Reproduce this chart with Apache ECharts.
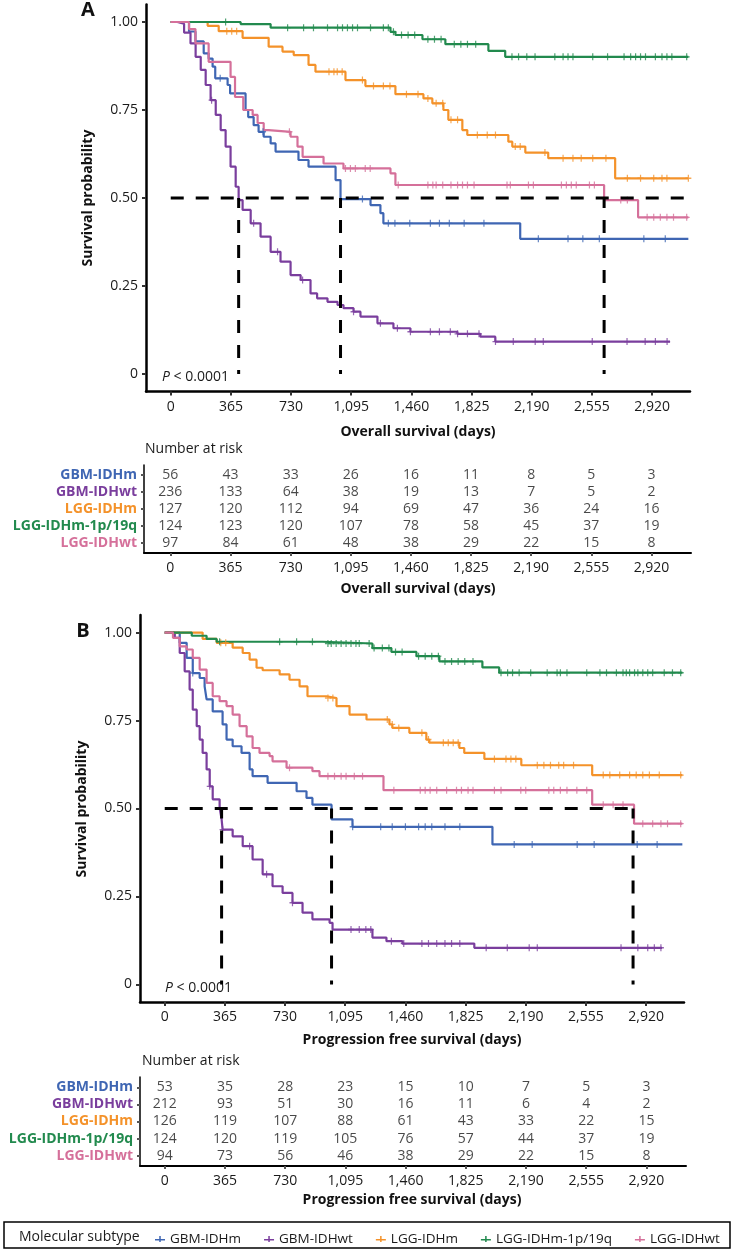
<!DOCTYPE html>
<html>
<head>
<meta charset="utf-8">
<script src="https://cdn.jsdelivr.net/npm/echarts@6/dist/echarts.min.js"></script>
<style>
html,body{margin:0;padding:0;background:#fff;}
#chart{width:738px;height:1252px;}
</style>
</head>
<body>
<div id="chart"></div>
<script>
// ---------- DATA ----------
const groups = ['GBM-IDHm', 'GBM-IDHwt', 'LGG-IDHm', 'LGG-IDHm-1p/19q', 'LGG-IDHwt'];
const tickDays = [0, 365, 730, 1095, 1460, 1825, 2190, 2555, 2920];
const tickSurv = [0, 0.25, 0.5, 0.75, 1];

// Overall survival KM steps [day, survival]
const osGBMm = [[0,1],[111,0.973],[150,0.945],[200,0.911],[230,0.896],[254,0.873],[270,0.840],[345,0.821],[360,0.797],[454,0.75],[470,0.73],[503,0.707],[533,0.688],[564,0.674],[606,0.655],[636,0.632],[775,0.608],[836,0.589],[1000,0.551],[1030,0.497],[1212,0.480],[1272,0.457],[1290,0.428],[2120,0.384],[3140,0.384]];
const osGBMwt = [[0,1],[40,0.995],[81,0.97],[120,0.939],[151,0.901],[182,0.864],[212,0.821],[242,0.778],[273,0.736],[303,0.693],[333,0.646],[363,0.589],[394,0.532],[412,0.494],[436,0.466],[485,0.428],[545,0.390],[606,0.347],[666,0.319],[727,0.281],[788,0.267],[848,0.229],[888,0.215],[951,0.205],[1012,0.196],[1048,0.187],[1109,0.177],[1151,0.163],[1254,0.144],[1351,0.130],[1454,0.120],[1739,0.114],[1878,0.106],[1969,0.092],[3029,0.092]];
const osLGGm = [[0,1],[224,0.989],[291,0.974],[436,0.955],[594,0.930],[678,0.916],[746,0.906],[836,0.878],[878,0.859],[1060,0.835],[1181,0.818],[1363,0.795],[1533,0.783],[1587,0.769],[1654,0.750],[1684,0.722],[1769,0.693],[1799,0.679],[2048,0.660],[2072,0.646],[2151,0.629],[2290,0.613],[2696,0.556],[3140,0.556]];
const osLGGcodel = [[0,1],[424,0.994],[606,0.984],[1333,0.972],[1363,0.963],[1527,0.951],[1666,0.937],[1927,0.918],[2029,0.901],[3140,0.901]];
const osLGGwt = [[0,1],[111,0.98],[150,0.939],[230,0.887],[363,0.844],[390,0.787],[440,0.75],[497,0.736],[527,0.713],[564,0.693],[594,0.688],[727,0.674],[769,0.646],[800,0.617],[927,0.598],[1048,0.584],[1333,0.570],[1363,0.537],[2629,0.494],[2835,0.445],[3140,0.445]];

// Overall survival censor times
const osCensGBMm = [300,560,1163,1320,1360,1450,1575,1630,1690,1780,1900,2230,2410,2500,2600,2870,3000];
const osCensGBMwt = [248,503,648,800,1109,1272,1375,1454,1575,1630,1696,1740,1800,1870,1970,2078,2211,2260,2557,2768,2878,2940,3011];
const osCensLGGm = [340,370,400,960,990,1010,1040,1163,1230,1290,1330,1430,1500,1560,1610,1650,1700,1740,1860,1920,1970,2090,2120,2270,2380,2440,2490,2560,2640,2770,2850,2930,2980,3010,3140];
const osCensLGGcodel = [333,709,806,866,951,1012,1042,1072,1103,1133,1212,1290,1320,1351,1400,1440,1480,1560,1600,1640,1720,1760,1800,1850,2070,2110,2160,2210,2330,2380,2410,2440,2560,2650,2750,2790,2820,2850,2880,2940,2980,3010,3040,3130];
const osCensLGGwt = [720,1060,1090,1120,1180,1210,1380,1560,1590,1610,1650,1700,1740,1770,1800,1840,2040,2060,2170,2200,2370,2400,2430,2460,2540,2570,2730,2770,2890,2930,2970,3010,3050,3130];

// Progression free survival KM steps
const pfsGBMm = [[0,1],[91,0.971],[133,0.928],[170,0.885],[212,0.871],[242,0.847],[254,0.810],[291,0.776],[351,0.739],[375,0.696],[412,0.677],[466,0.658],[515,0.611],[533,0.592],[624,0.573],[800,0.549],[860,0.530],[896,0.511],[1012,0.469],[1139,0.448],[1988,0.398],[3140,0.398]];
const pfsGBMwt = [[0,1],[61,0.985],[91,0.942],[121,0.890],[151,0.838],[170,0.781],[194,0.734],[212,0.696],[230,0.658],[254,0.611],[273,0.563],[291,0.526],[333,0.502],[345,0.470],[351,0.440],[412,0.421],[473,0.393],[533,0.355],[594,0.313],[654,0.279],[715,0.260],[775,0.232],[836,0.204],[896,0.185],[1000,0.175],[1018,0.156],[1260,0.133],[1345,0.123],[1442,0.116],[1878,0.104],[3017,0.104]];
const pfsLGGm = [[0,1],[230,0.982],[315,0.971],[412,0.957],[473,0.942],[515,0.923],[557,0.900],[594,0.893],[697,0.881],[757,0.866],[818,0.847],[866,0.819],[981,0.814],[1042,0.791],[1121,0.767],[1224,0.753],[1363,0.739],[1381,0.729],[1484,0.715],[1587,0.696],[1605,0.687],[1787,0.672],[1817,0.658],[1939,0.641],[2163,0.623],[2593,0.595],[3140,0.595]];
const pfsLGGcodel = [[0,1],[164,0.991],[254,0.982],[315,0.974],[957,0.969],[1260,0.956],[1375,0.945],[1527,0.933],[1666,0.918],[1927,0.901],[2029,0.886],[3140,0.886]];
const pfsLGGwt = [[0,1],[50,0.985],[91,0.961],[133,0.952],[170,0.928],[212,0.895],[254,0.857],[291,0.819],[333,0.805],[375,0.791],[412,0.767],[454,0.734],[497,0.705],[533,0.672],[575,0.658],[636,0.649],[654,0.634],[739,0.616],[896,0.606],[939,0.592],[1327,0.552],[2593,0.511],[2847,0.457],[3140,0.457]];

// PFS censor times
const pfsCensGBMm = [170,1140,1310,1380,1460,1540,1580,1620,1700,1790,2120,2229,2502,2605,2866,2987];
const pfsCensGBMwt = [273,351,515,618,775,1130,1180,1220,1250,1375,1450,1560,1600,1650,1700,1740,1790,1950,2078,2211,2260,2768,2870,2930,2970,3010];
const pfsCensLGGm = [340,370,990,1020,1350,1380,1420,1560,1600,1690,1720,1750,1780,2000,2070,2100,2130,2260,2300,2340,2390,2420,2480,2660,2700,2760,2820,2860,2900,2940,3000,3130];
const pfsCensLGGcodel = [333,697,800,896,990,1010,1040,1070,1100,1130,1160,1180,1240,1270,1320,1360,1400,1440,1540,1580,1620,1660,1700,1740,1780,1820,1870,2040,2080,2110,2150,2220,2320,2380,2400,2440,2560,2640,2680,2740,2780,2800,2820,2850,2870,2900,2930,2960,3030,3080,3130];
const pfsCensLGGwt = [757,990,1030,1070,1100,1150,1200,1390,1550,1580,1610,1650,1710,1770,1800,1840,1870,2000,2040,2160,2190,2330,2360,2400,2440,2500,2560,2660,2720,2780,2900,2960,3010,3050,3130];

// Number at risk
const osRiskGBMm = [56,43,33,26,16,11,8,5,3];
const osRiskGBMwt = [236,133,64,38,19,13,7,5,2];
const osRiskLGGm = [127,120,112,94,69,47,36,24,16];
const osRiskLGGcodel = [124,123,120,107,78,58,45,37,19];
const osRiskLGGwt = [97,84,61,48,38,29,22,15,8];
const pfsRiskGBMm = [53,35,28,23,15,10,7,5,3];
const pfsRiskGBMwt = [212,93,51,30,16,11,6,4,2];
const pfsRiskLGGm = [126,119,107,88,61,43,33,22,15];
const pfsRiskLGGcodel = [124,120,119,105,76,57,44,37,19];
const pfsRiskLGGwt = [94,73,56,46,38,29,22,15,8];

// Median survival times (dashed guides)
const osMedians = [412, 1030, 2629];
const pfsMedians = [345, 1012, 2841];
const osMedianLineEnd = 3150;
const pfsMedianLineEnd = 2841;

// ---------- STYLE ----------
const colors = ['#3F66B3', '#7A3E9D', '#F4922A', '#228A4E', '#D5709A'];
const FONT = '"Open Sans", "Noto Sans", sans-serif';
const TXT = '#1a1a1a';
const PLUS = 'path://M4,0h2v10h-2z M0,4h10v2h-10z';

const osCurves = [osGBMm, osGBMwt, osLGGm, osLGGcodel, osLGGwt];
const osCens = [osCensGBMm, osCensGBMwt, osCensLGGm, osCensLGGcodel, osCensLGGwt];
const osRisk = [osRiskGBMm, osRiskGBMwt, osRiskLGGm, osRiskLGGcodel, osRiskLGGwt];
const pfsCurves = [pfsGBMm, pfsGBMwt, pfsLGGm, pfsLGGcodel, pfsLGGwt];
const pfsCens = [pfsCensGBMm, pfsCensGBMwt, pfsCensLGGm, pfsCensLGGcodel, pfsCensLGGwt];
const pfsRisk = [pfsRiskGBMm, pfsRiskGBMwt, pfsRiskLGGm, pfsRiskLGGcodel, pfsRiskLGGwt];

function stepAt(curve, t) {
  let s = curve[0][1];
  for (const p of curve) { if (p[0] <= t) s = p[1]; else break; }
  return s;
}
const fmtDay = v => v >= 1000 ? (Math.floor(v / 1000) + ',' + String(v % 1000).padStart(3, '0')) : String(v);
const fmtSurv = v => v === 0 ? '0' : v.toFixed(2);

function mainX(gi) {
  return {
    gridIndex: gi, type: 'value', min: -150, max: 3150,
    axisLine: { show: true, onZero: false, lineStyle: { color: '#000', width: 2.5 } },
    axisTick: { show: true, length: 4, customValues: tickDays, lineStyle: { color: '#333', width: 2 } },
    axisLabel: { customValues: tickDays, formatter: fmtDay, fontFamily: FONT, fontSize: 14, color: TXT, margin: 8 },
    splitLine: { show: false }
  };
}
function mainY(gi) {
  return {
    gridIndex: gi, type: 'value', min: -0.05, max: 1.05,
    axisLine: { show: true, onZero: false, lineStyle: { color: '#000', width: 2.5 } },
    axisTick: { show: true, length: 4, customValues: tickSurv, lineStyle: { color: '#333', width: 2 } },
    axisLabel: { customValues: tickSurv, formatter: fmtSurv, fontFamily: FONT, fontSize: 14, color: TXT, margin: 8 },
    splitLine: { show: false }
  };
}
function tableX(gi, min, max) {
  return {
    gridIndex: gi, type: 'value', min: min, max: max,
    axisLine: { show: true, onZero: false, lineStyle: { color: '#000', width: 2 } },
    axisTick: { show: true, length: 3, customValues: tickDays, lineStyle: { color: '#555', width: 2 } },
    axisLabel: { customValues: tickDays, formatter: fmtDay, fontFamily: FONT, fontSize: 14, color: TXT, margin: 8 },
    splitLine: { show: false }
  };
}
const rich = {};
groups.forEach((g, i) => { rich['c' + i] = { color: colors[i], fontWeight: 'bold', fontFamily: FONT, fontSize: 14 }; });
function tableY(gi) {
  return {
    gridIndex: gi, type: 'value', min: 0.4, max: 5.6, inverse: true,
    axisLine: { show: true, onZero: false, lineStyle: { color: '#000', width: 1.5 } },
    axisTick: { show: true, length: 3, customValues: [1, 2, 3, 4, 5], lineStyle: { color: '#555', width: 2 } },
    axisLabel: { customValues: [1, 2, 3, 4, 5], margin: 7, formatter: v => '{c' + (v - 1) + '|' + groups[v - 1] + '}', rich: rich },
    splitLine: { show: false }
  };
}

const series = [];
function addPanel(curves, cens, risk, medians, hEnd, mainIdx, tabIdx) {
  curves.forEach((c, i) => {
    series.push({
      name: groups[i], type: 'line', step: 'end', xAxisIndex: mainIdx, yAxisIndex: mainIdx,
      data: c, showSymbol: false, symbol: 'none', lineStyle: { color: colors[i], width: 2.2 },
      itemStyle: { color: colors[i] }, z: 3, silent: true
    });
  });
  cens.forEach((ts, i) => {
    series.push({
      name: groups[i], type: 'scatter', xAxisIndex: mainIdx, yAxisIndex: mainIdx,
      data: ts.map(t => [t, stepAt(curves[i], t)]), symbol: PLUS, symbolSize: [6, 7],
      itemStyle: { color: colors[i] }, z: 4, silent: true
    });
  });
  // dashed median guides
  series.push({
    type: 'line', xAxisIndex: mainIdx, yAxisIndex: mainIdx, data: [[0, 0.5], [hEnd, 0.5]],
    symbol: 'none', lineStyle: { color: '#000', width: 3, type: [13, 12] }, z: 5, silent: true
  });
  medians.forEach(m => {
    series.push({
      type: 'line', xAxisIndex: mainIdx, yAxisIndex: mainIdx, data: [[m, 0.5], [m, 0]],
      symbol: 'none', lineStyle: { color: '#000', width: 3, type: [13, 12], dashOffset: 3 }, z: 5, silent: true
    });
  });
  // risk table
  risk.forEach((row, i) => {
    series.push({
      type: 'scatter', xAxisIndex: tabIdx, yAxisIndex: tabIdx,
      data: row.map((n, k) => [tickDays[k], i + 1, n]), symbolSize: 0,
      label: { show: true, position: 'inside', formatter: p => String(p.value[2]), fontFamily: FONT, fontSize: 14, color: TXT },
      silent: true
    });
  });
}
addPanel(osCurves, osCens, osRisk, osMedians, osMedianLineEnd, 0, 1);
addPanel(pfsCurves, pfsCens, pfsRisk, pfsMedians, pfsMedianLineEnd, 2, 3);

function txt(text, x, y, opts) {
  return Object.assign({
    type: 'text', x: x, y: y, silent: true,
    style: Object.assign({ text: text, fontFamily: FONT, fontSize: 14, fill: TXT, textAlign: 'center', textVerticalAlign: 'middle' }, (opts && opts.style) || {})
  }, opts && opts.rotation ? { rotation: opts.rotation } : {});
}
const bold = { style: { fontWeight: 'bold', fill: '#111' } };

const option = {
  animation: false,
  backgroundColor: '#fff',
  grid: [
    { left: 146, top: 4.4, width: 544, height: 387.2 },
    { left: 144, top: 465, width: 547, height: 88 },
    { left: 140, top: 615, width: 544, height: 387 },
    { left: 140, top: 1077, width: 546, height: 89 }
  ],
  xAxis: [mainX(0), tableX(1, -160, 3160), mainX(2), tableX(3, -150, 3160)],
  yAxis: [mainY(0), tableY(1), mainY(2), tableY(3)],
  legend: {
    left: 150, top: 1227, itemWidth: 10, itemHeight: 7, itemGap: 23,
    data: groups.map(g => ({ name: g, icon: 'path://M0,3h10v1.5h-10z M4.25,0h1.5v6h-1.5z' })),
    textStyle: { fontFamily: FONT, fontSize: 13.5, color: TXT }, selectedMode: false
  },
  series: series,
  graphic: [
    txt('A', 88, 10, { style: { fontWeight: 'bold', fontSize: 20, fill: '#111' } }),
    txt('B', 83, 631, { style: { fontWeight: 'bold', fontSize: 20, fill: '#111' } }),
    txt('Survival probability', 88, 198, { rotation: Math.PI / 2, style: { fontWeight: 'bold', fill: '#111' } }),
    txt('Survival probability', 82, 809, { rotation: Math.PI / 2, style: { fontWeight: 'bold', fill: '#111' } }),
    txt('Overall survival (days)', 418, 432, bold),
    txt('Overall survival (days)', 418, 589, bold),
    txt('Progression free survival (days)', 412, 1040, bold),
    txt('Progression free survival (days)', 412, 1200, bold),
    txt('Number at risk', 145, 449, { style: { textAlign: 'left' } }),
    txt('Number at risk', 142, 1061, { style: { textAlign: 'left' } }),
    txt('{i|P} < 0.0001', 162, 377, { style: { textAlign: 'left', rich: { i: { fontStyle: 'italic', fontFamily: FONT, fontSize: 14, fill: TXT } } } }),
    txt('{i|P} < 0.0001', 165, 988, { style: { textAlign: 'left', rich: { i: { fontStyle: 'italic', fontFamily: FONT, fontSize: 14, fill: TXT } } } }),
    { type: 'rect', silent: true, shape: { x: 4, y: 1222, width: 726, height: 26 }, style: { fill: 'none', stroke: '#000', lineWidth: 1.5 } },
    txt('Molecular subtype', 19, 1237, { style: { textAlign: 'left', fontSize: 14 } })
  ]
};

const chart = echarts.init(document.getElementById('chart'), null, { renderer: 'canvas' });
chart.setOption(option);
</script>
</body>
</html>
